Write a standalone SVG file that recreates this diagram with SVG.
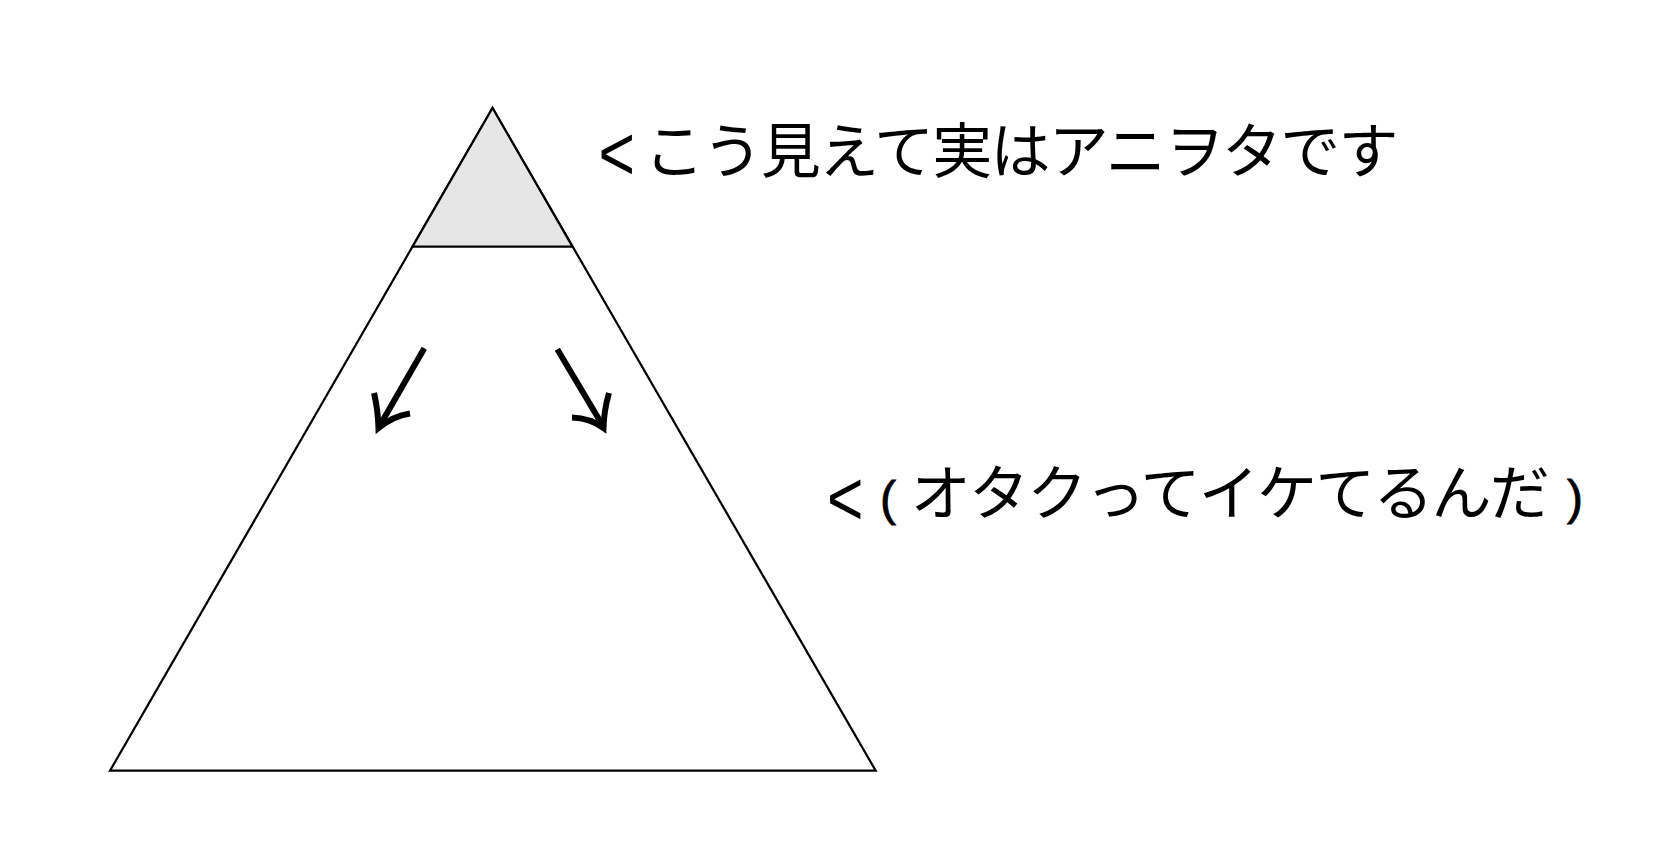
<svg xmlns="http://www.w3.org/2000/svg" width="1676" height="858" viewBox="0 0 1676 858">
<style>
.edge{stroke:#000;stroke-width:2.2;stroke-linejoin:miter}
.white{fill:#fff}
.gray{fill:#e6e6e6}
.arrow{fill:none;stroke:#000;stroke-width:6;stroke-linecap:butt;stroke-linejoin:miter}
.lbl{font-family:"Noto Sans CJK JP","Noto Sans CJK SC",sans-serif;font-size:60px;letter-spacing:-1.8px;fill:#000}
.lt{font-family:"Liberation Sans",Arial,sans-serif;font-size:78px;fill:#000}
.par{font-family:"Liberation Sans",Arial,sans-serif;font-size:48px;fill:#000;stroke:#000;stroke-width:0.8}
</style>
<rect width="1676" height="858" fill="#fff"/>
<g id="pyramid">
<polygon points="492.5,108 110,770.7 875.7,770.7" class="edge white"/>
</g>
<g id="tip">
<polygon points="492.5,108 412.5,246.7 572.5,246.7" class="edge gray"/>
</g>
<g id="connectors">
<path class="arrow" d="M424.3,348.3 L379,427"/>
<path class="arrow" d="M374,393 Q378,410 378.5,428 Q393,416 410,413.5"/>
<path class="arrow" d="M557.3,349.3 L603,426"/>
<path class="arrow" d="M609,393 Q604,410 603.5,428 Q590,418 572,417.5"/>
</g>
<g id="label1">
<text class="lt" transform="translate(598.5,179.5) scale(0.8,1)">&lt;</text>
<text class="lbl" x="644.3" y="173">こう見えて実はアニヲタです</text>
</g>
<g id="label2">
<text class="lt" transform="translate(827,525) scale(0.8,1)">&lt;</text>
<text class="par" x="880" y="515">(</text>
<text class="lbl" x="910.8" y="515">オタクってイケてるんだ</text>
<text class="par" x="1567" y="514">)</text>
</g>
</svg>
